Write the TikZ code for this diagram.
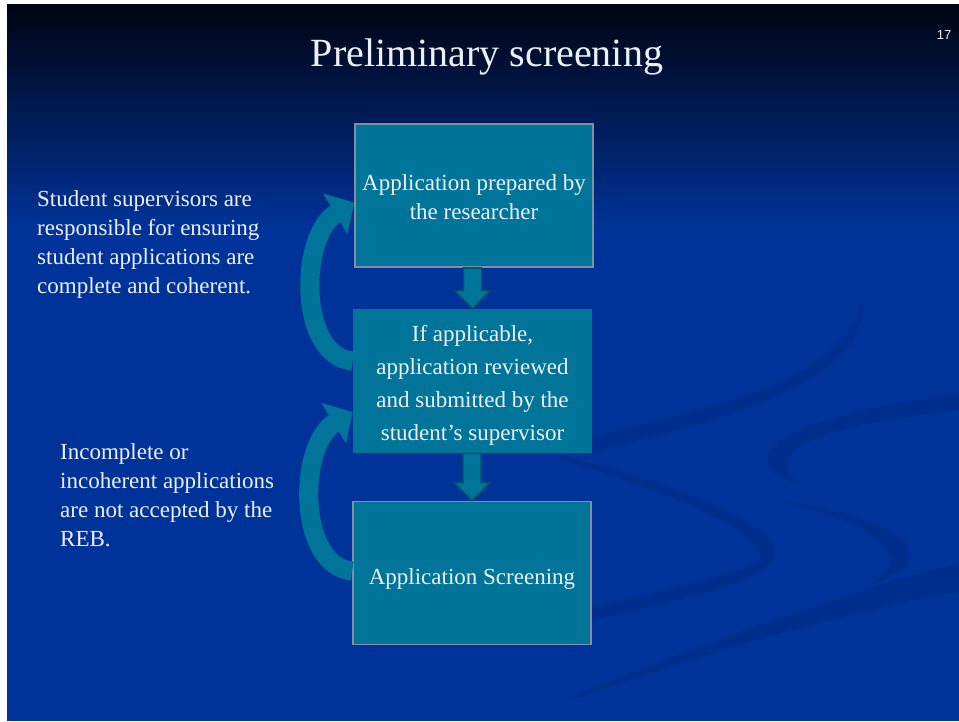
\documentclass[tikz,border=0pt]{standalone}
\usepackage{fontspec}
\setmainfont{Liberation Serif}
\newfontfamily\slidesans{Liberation Sans}
\usepackage{tikz}
\usetikzlibrary{arrows.meta,calc,positioning}

\definecolor{slideblue}{RGB}{0,51,153}
\definecolor{slidetop}{RGB}{0,4,18}
\definecolor{slidemid}{RGB}{0,28,88}
\definecolor{swirlblue}{RGB}{0,46,143}
\definecolor{boxteal}{RGB}{0,116,153}
\definecolor{boxedge}{RGB}{128,144,162}
\definecolor{arrowedge}{RGB}{0,80,110}
\definecolor{slidetext}{RGB}{236,240,248}

% block arrow from the bottom of one box to the top of the next
\newcommand{\downflow}[2]{%
  \draw[flowarrow] ($(#1.south -| #2.north)+(-9,0)$) -- ($(#2.north)+(-9,-18)$) -- ($(#2.north)+(-18,-18)$)
    -- (#2.north) -- ($(#2.north)+(18,-18)$) -- ($(#2.north)+(9,-18)$) -- ($(#1.south -| #2.north)+(9,0)$) -- cycle;}

\begin{document}
\begin{tikzpicture}[x=1pt, y=-1pt,
    stepbox/.style={rectangle, fill=boxteal, draw=boxedge, line width=1.6pt, minimum width=238pt,
      minimum height=143pt, align=center, text=slidetext, inner sep=2pt, font=\fontsize{23}{29}\selectfont},
    notetext/.style={anchor=west, align=left, inner sep=0pt, text=slidetext, font=\fontsize{23}{29}\selectfont},
    flowarrow/.style={fill=boxteal, draw=arrowedge, line width=1.4pt, line join=miter},
    looparrow/.style={draw=boxteal, line width=19pt, -{Triangle[length=22pt,width=46pt]}},
    swirl/.style={fill=swirlblue}]
    \useasboundingbox (0,0) rectangle (959,721);

    % Slide background
    \fill[white] (0,0) rectangle (959,721);
    \fill[slideblue] (7,220) rectangle (959,721);
    \shade[top color=slidetop, middle color=slidemid, bottom color=slideblue] (7,4) rectangle (959,230);

    % Swirls
    \fill[swirl] (575,440) .. controls (720,405) and (845,380) .. (862,300) .. controls (872,375) and (740,420) .. (575,455) -- cycle;
    \fill[swirl] (800,485) .. controls (735,465) and (755,420) .. (959,393) -- (959,410) .. controls (800,428) and (765,455) .. (800,485) -- cycle;
    \fill[swirl] (560,455) .. controls (700,490) and (790,530) .. (773,560) .. controls (755,585) and (680,600) .. (575,625)
      -- (575,612) .. controls (680,585) and (760,570) .. (760,555) .. controls (755,530) and (680,495) .. (560,460) -- cycle;
    \fill[swirl] (757,497) .. controls (850,510) and (910,530) .. (910,553) .. controls (910,570) and (890,578) .. (868,585)
      .. controls (885,575) and (895,565) .. (887,553) .. controls (870,520) and (800,505) .. (757,497) -- cycle;
    \fill[swirl] (570,697) .. controls (700,645) and (850,590) .. (959,563) -- (959,592) .. controls (850,610) and (700,655) .. (570,700) -- cycle;

    % Title
    \node (title) at (487,66) [anchor=base, text=slidetext, font=\fontsize{40}{48}\selectfont] {Preliminary screening};
    \node (pagenum) at (944,35) [text=slidetext, font=\slidesans\fontsize{13}{15}\selectfont] {17};

    % Steps
    \node (prepared) at (474,195.5) [stepbox] {\rule{0pt}{19pt}Application prepared by\\the researcher};
    \node (reviewed) at (472.5,381) [stepbox, draw=boxteal, font=\fontsize{23}{33}\selectfont] {\rule{0pt}{24pt}If applicable,\\application reviewed\\and submitted by the\\student's supervisor};
    \node (screening) at (472,573) [stepbox] {\rule{0pt}{28pt}Application Screening};

    \downflow{prepared}{reviewed}
    \downflow{reviewed}{screening}

    % Loops back
    \draw[looparrow] ($(reviewed.west)+(0,-20)$) .. controls ($(reviewed.west)+(-55,-25)$) and ($(prepared.west)+(-55,40)$) .. ($(prepared.west)+(0,7)$);
    \draw[looparrow] ($(screening.west)+(0,-2)$) .. controls ($(screening.west)+(-55,-7)$) and ($(reviewed.west)+(-55,64)$) .. ($(reviewed.west)+(0,31)$);

    % Notes
    \node (supnote) at (37,244) [notetext] {Student supervisors are\\responsible for ensuring\\student applications are\\complete and coherent.};
    \node (rejnote) at (60,495) [notetext] {Incomplete or\\incoherent applications\\are not accepted by the\\REB.};
\end{tikzpicture}
\end{document}
